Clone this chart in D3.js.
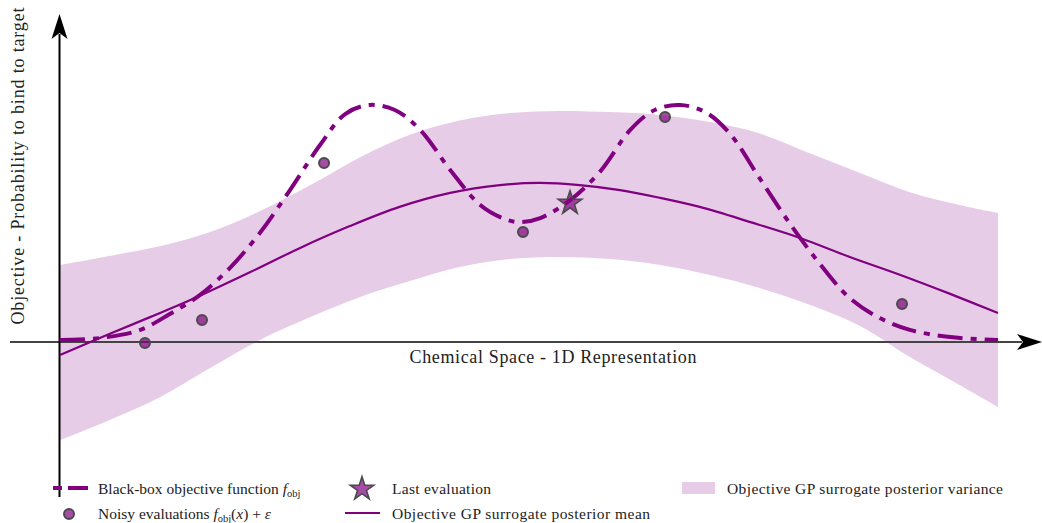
<!DOCTYPE html>
<html>
<head>
<meta charset="utf-8">
<script src="https://cdn.jsdelivr.net/npm/d3@7"></script>
<style>
  html, body { margin: 0; padding: 0; background: #fff; }
  svg { display: block; }
  text { font-family: "Liberation Serif", "DejaVu Serif", serif; fill: #222; }
</style>
</head>
<body>
<svg id="chart" width="1042" height="523"></svg>
<script>
// Black-box objective function samples (chemical-space coordinate, objective value)
const objX = [0, 0.43, 0.85, 1.17, 1.49, 1.81, 2.13, 2.45, 2.77, 3.04, 3.30, 3.57, 3.84, 4.16, 4.48, 4.74, 4.90, 5.12, 5.44, 5.76, 6.08, 6.34, 6.61, 6.88, 7.14, 7.46, 7.78, 8.10, 8.42, 8.74, 9.06, 9.49, 10];
const objY = [0.008, 0.017, 0.05, 0.118, 0.198, 0.312, 0.46, 0.64, 0.83, 0.962, 1.0, 0.979, 0.895, 0.726, 0.578, 0.519, 0.506, 0.523, 0.599, 0.72, 0.895, 0.979, 1.0, 0.970, 0.88, 0.69, 0.50, 0.33, 0.185, 0.101, 0.051, 0.021, 0.008];

// GP surrogate posterior mean
const meanX = [0, 0.50, 0.96, 1.39, 2.03, 2.56, 3.09, 3.62, 4.16, 4.69, 5.12, 5.54, 5.97, 6.40, 6.82, 7.36, 7.89, 8.42, 8.96, 9.49, 10];
const meanY = [-0.055, 0.030, 0.105, 0.177, 0.295, 0.397, 0.489, 0.570, 0.629, 0.662, 0.671, 0.662, 0.641, 0.608, 0.570, 0.506, 0.439, 0.359, 0.283, 0.203, 0.122];

// GP posterior variance band (upper / lower bounds)
const bandX = [0, 0.53, 1.07, 1.60, 2.13, 2.67, 3.20, 3.73, 4.26, 4.80, 5.33, 5.86, 6.40, 6.93, 7.46, 8.00, 8.53, 9.06, 9.59, 10];
const bandUpper = [0.325, 0.363, 0.405, 0.464, 0.552, 0.662, 0.780, 0.875, 0.935, 0.966, 0.975, 0.970, 0.958, 0.928, 0.880, 0.795, 0.713, 0.632, 0.578, 0.544];
const bandLower = [-0.414, -0.329, -0.232, -0.110, 0.008, 0.105, 0.190, 0.257, 0.316, 0.350, 0.359, 0.350, 0.325, 0.283, 0.228, 0.156, 0.068, -0.063, -0.181, -0.274];

// Noisy evaluations
const evalX = [0.906, 1.514, 2.815, 4.936, 6.450, 8.977];
const evalY = [-0.004, 0.093, 0.755, 0.464, 0.949, 0.160];

// Last evaluation
const lastX = [5.437];
const lastY = [0.586];

const xLabel = "Chemical Space - 1D Representation";
const yLabel = "Objective - Probability to bind to target";

const PURPLE = "#800080";
const EDGE = "#4a4a4a";

const svg = d3.select("#chart");
const x = d3.scaleLinear().domain([0, 10]).range([60, 998]);
const y = d3.scaleLinear().domain([0, 1]).range([342, 105]);
const smooth = d3.curveCatmullRom.alpha(0.5);

// variance band
const band = bandX.map((d, i) => ({ x: d, lo: bandLower[i], hi: bandUpper[i] }));
svg.append("path")
  .datum(band)
  .attr("fill", PURPLE)
  .attr("fill-opacity", 0.2)
  .attr("d", d3.area().x(d => x(d.x)).y0(d => y(d.lo)).y1(d => y(d.hi)).curve(smooth));

// axes with arrow heads
const x0 = x(0), y0 = y(0);
svg.append("line").attr("x1", 10).attr("x2", 1022).attr("y1", y0).attr("y2", y0)
  .attr("stroke", "#444").attr("stroke-width", 2);
svg.append("line").attr("x1", x0 - 0.5).attr("x2", x0 - 0.5).attr("y1", 497).attr("y2", 34)
  .attr("stroke", "#000").attr("stroke-width", 2);
// x arrow
svg.append("path")
  .attr("d", `M${1042},${y0} L${1017},${y0 - 8} L${1023},${y0} L${1017},${y0 + 8} Z`)
  .attr("fill", "#000");
// y arrow
svg.append("path")
  .attr("d", `M${x0 - 0.5},14 L${x0 - 8.5},39 L${x0 - 0.5},33 L${x0 + 7.5},39 Z`)
  .attr("fill", "#000");

// GP mean
svg.append("path")
  .datum(meanX.map((d, i) => [d, meanY[i]]))
  .attr("fill", "none").attr("stroke", PURPLE).attr("stroke-width", 2.2)
  .attr("d", d3.line().x(d => x(d[0])).y(d => y(d[1])).curve(smooth));

// black-box objective
svg.append("path")
  .datum(objX.map((d, i) => [d, objY[i]]))
  .attr("fill", "none").attr("stroke", PURPLE).attr("stroke-width", 4)
  .attr("stroke-dasharray", "25,8,6,8")
  .attr("d", d3.line().x(d => x(d[0])).y(d => y(d[1])).curve(smooth));

// evaluations
svg.selectAll("circle.eval")
  .data(evalX.map((d, i) => [d, evalY[i]]))
  .join("circle").attr("class", "eval")
  .attr("cx", d => x(d[0])).attr("cy", d => y(d[1])).attr("r", 5)
  .attr("fill", PURPLE).attr("fill-opacity", 0.7)
  .attr("stroke", EDGE).attr("stroke-width", 2);

const star = d3.symbol().type(d3.symbolStar).size(170);
svg.selectAll("path.last")
  .data(lastX.map((d, i) => [d, lastY[i]]))
  .join("path").attr("class", "last")
  .attr("transform", d => `translate(${x(d[0])},${y(d[1])})`)
  .attr("d", star)
  .attr("fill", PURPLE).attr("fill-opacity", 0.7)
  .attr("stroke", EDGE).attr("stroke-width", 1.6);

// axis labels
svg.append("text").attr("x", 553).attr("y", 363).attr("text-anchor", "middle")
  .attr("font-size", 18).attr("textLength", 287).attr("lengthAdjust", "spacing")
  .text(xLabel);
svg.append("text").attr("transform", "translate(24,166) rotate(-90)").attr("text-anchor", "middle")
  .attr("font-size", 18).attr("textLength", 317).attr("lengthAdjust", "spacing")
  .text(yLabel);

// legend
const lg = svg.append("g").attr("font-size", 15.5);
function mathLabel(g, lx, ly, parts) {
  const t = g.append("text").attr("x", lx).attr("y", ly);
  parts.forEach(p => {
    const s = t.append("tspan").text(p.t);
    if (p.i) s.attr("font-style", "italic");
    if (p.sub) s.attr("font-size", 10.5).attr("dy", 3);
    if (p.up) s.attr("dy", -3);
  });
  return t;
}
// row 1
lg.append("line").attr("x1", 53).attr("x2", 88).attr("y1", 488).attr("y2", 488)
  .attr("stroke", PURPLE).attr("stroke-width", 4).attr("stroke-dasharray", "9,6,20,6");
mathLabel(lg, 98, 494, [{ t: "Black-box objective function " }, { t: "f", i: true }, { t: "obj", sub: true }]);
lg.append("path").attr("transform", "translate(362,489)").attr("d", star)
  .attr("fill", PURPLE).attr("fill-opacity", 0.7).attr("stroke", EDGE).attr("stroke-width", 1.6);
lg.append("text").attr("x", 392).attr("y", 494).attr("textLength", 99).attr("lengthAdjust", "spacing").text("Last evaluation");
lg.append("rect").attr("x", 682).attr("y", 482).attr("width", 33).attr("height", 12)
  .attr("fill", PURPLE).attr("fill-opacity", 0.2);
lg.append("text").attr("x", 727).attr("y", 494).attr("textLength", 276).attr("lengthAdjust", "spacing")
  .text("Objective GP surrogate posterior variance");
// row 2
lg.append("circle").attr("cx", 69).attr("cy", 514).attr("r", 5)
  .attr("fill", PURPLE).attr("fill-opacity", 0.7).attr("stroke", EDGE).attr("stroke-width", 2);
mathLabel(lg, 98, 519, [{ t: "Noisy evaluations " }, { t: "f", i: true }, { t: "obj", sub: true },
  { t: "(", up: true }, { t: "x", i: true }, { t: ") + " }, { t: "ε", i: true }]);
lg.append("line").attr("x1", 345).attr("x2", 380).attr("y1", 513).attr("y2", 513)
  .attr("stroke", PURPLE).attr("stroke-width", 2.2);
lg.append("text").attr("x", 392).attr("y", 519).attr("textLength", 258).attr("lengthAdjust", "spacing")
  .text("Objective GP surrogate posterior mean");
</script>
</body>
</html>
